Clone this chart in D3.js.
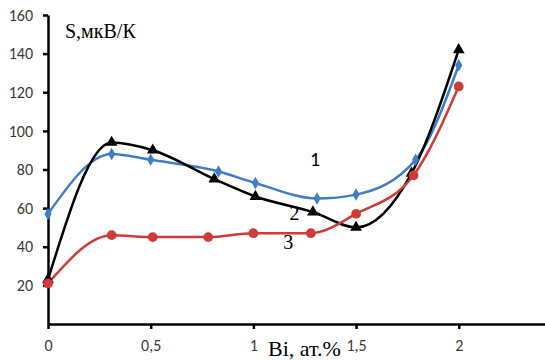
<!DOCTYPE html>
<html>
<head>
<meta charset="utf-8">
<script src="https://cdn.jsdelivr.net/npm/d3@7"></script>
<style>
  body { margin: 0; background: #fff; }
  svg { display: block; }
  .tick text { font-family: Carlito, 'Open Sans', sans-serif; font-size: 16px; fill: #3a3a3a; }
</style>
</head>
<body>
<div id="chart"></div>
<script>
// Data: S (мкВ/К) vs Bi content (ат.%)
const xTicks = [0, 0.5, 1, 1.5, 2];
const yTicks = [20, 40, 60, 80, 100, 120, 140, 160];

const series1X = [0, 0.31, 0.5, 0.83, 1.01, 1.31, 1.5, 1.79, 2];
const series1Y = [57, 88, 85, 79, 73, 65, 67, 85, 134];

const series2X = [0, 0.31, 0.51, 0.81, 1.01, 1.29, 1.5, 1.77, 2];
const series2Y = [23, 94, 90, 75, 66, 58, 50, 78, 142];

const series3X = [0, 0.31, 0.51, 0.78, 1.0, 1.28, 1.5, 1.78, 2];
const series3Y = [21, 46, 45, 45, 47, 47, 57, 77, 123];

const seriesNames = ['1', '2', '3'];

const W = 545, H = 360;
const margin = { top: 15, right: 0, bottom: 36, left: 48 };

const svg = d3.select('#chart')
    .append('svg')
    .attr('width', W)
    .attr('height', H);

const x = d3.scaleLinear()
    .domain([0, 2.42])
    .range([margin.left, W - margin.right]);

const y = d3.scaleLinear()
    .domain([0, 160])
    .range([H - margin.bottom, margin.top]);

// axes
const fmt = d => String(d).replace('.', ',');

const xAxis = svg.append('g')
    .attr('transform', `translate(0,${y(0)})`)
    .call(d3.axisBottom(x).tickValues(xTicks).tickFormat(fmt).tickSize(5).tickSizeOuter(0));
xAxis.attr('font-size', null).attr('font-family', null);
xAxis.select('.domain').attr('stroke', '#000').attr('stroke-width', 2.5);
xAxis.selectAll('.tick line').attr('stroke', '#000').attr('stroke-width', 2.5);
xAxis.selectAll('.tick text').attr('y', 16);

const yAxis = svg.append('g')
    .attr('transform', `translate(${x(0)},0)`)
    .call(d3.axisLeft(y).tickValues(yTicks).tickSize(5).tickSizeOuter(0));
yAxis.attr('font-size', null).attr('font-family', null);
yAxis.select('.domain').attr('stroke', '#000').attr('stroke-width', 2.5);
yAxis.selectAll('.tick line').attr('stroke', '#000').attr('stroke-width', 2.5);
yAxis.selectAll('.tick text').attr('x', -15);

// curves
const colors = ['#3f7dc4', '#000000', '#cf3b38'];
const allSeries = [
    series1X.map((v, i) => [v, series1Y[i]]),
    series2X.map((v, i) => [v, series2Y[i]]),
    series3X.map((v, i) => [v, series3Y[i]])
];

const line = d3.line()
    .x(d => x(d[0]))
    .y(d => y(d[1]))
    .curve(d3.curveMonotoneX);

allSeries.forEach((pts, i) => {
    svg.append('path')
        .datum(pts)
        .attr('d', line)
        .attr('fill', 'none')
        .attr('stroke', colors[i])
        .attr('stroke-width', 2.5);
});

// markers
const symbols = [
    d3.symbol().type(d3.symbolDiamond).size(45),
    d3.symbol().type(d3.symbolTriangle).size(60),
    d3.symbol().type(d3.symbolCircle).size(75)
];

allSeries.forEach((pts, i) => {
    svg.append('g').selectAll('path')
        .data(pts)
        .enter()
        .append('path')
        .attr('d', symbols[i])
        .attr('transform', d => `translate(${x(d[0])},${y(d[1])})`)
        .attr('fill', colors[i]);
});

// curve numbers (default font here is a Times-like serif)
const labelPos = [[1.3, 82], [1.2, 54], [1.17, 39]];
labelPos.forEach((p, i) => {
    const t = svg.append('text')
        .attr('x', x(p[0]))
        .attr('y', y(p[1]))
        .attr('text-anchor', 'middle')
        .attr('font-size', 20)
        .attr('fill', '#000')
        .text(seriesNames[i]);
    if (i === 0) t.style('font-family', 'Carlito, sans-serif');
});

// axis titles
svg.append('text')
    .attr('x', 65)
    .attr('y', 38)
    .attr('font-size', 20)
    .attr('fill', '#000')
    .text('S,мкВ/К');

svg.append('text')
    .attr('x', 268)
    .attr('y', 356)
    .attr('font-size', 22)
    .attr('fill', '#000')
    .text('Bi, ат.%');
</script>
</body>
</html>
